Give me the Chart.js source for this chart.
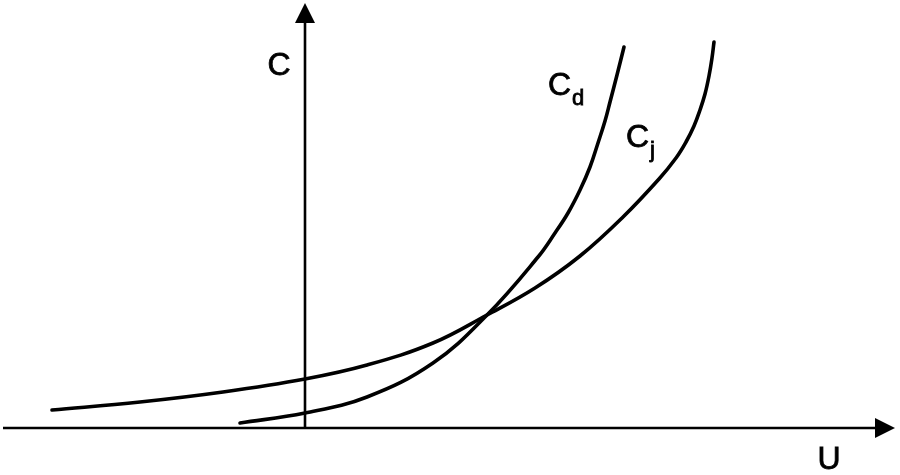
<!DOCTYPE html>
<html>
<head>
<meta charset="utf-8">
<script src="https://cdn.jsdelivr.net/npm/chart.js@4.4.1/dist/chart.umd.min.js"></script>
<style>
  html, body { margin: 0; padding: 0; background: #fff; }
  #wrap { width: 900px; height: 475px; }
</style>
</head>
<body>
<div id="wrap"><canvas id="capGraph"></canvas></div>
<script>
// values, in arbitrary U / C units (origin at the axes crossing)
var cjU = [-2.53, -1.65, -0.82, 0.00, 0.62, 1.28, 1.82, 2.30, 2.75, 3.18, 3.54, 3.71, 3.81, 3.89, 3.95, 4.00, 4.04, 4.07, 4.09];
var cjC = [0.18, 0.26, 0.36, 0.49, 0.63, 0.85, 1.13, 1.40, 1.72, 2.11, 2.49, 2.70, 2.86, 3.02, 3.18, 3.34, 3.52, 3.70, 3.86];
var cdU = [-0.65, 0.00, 0.62, 1.28, 1.82, 2.33, 2.50, 2.63, 2.75, 2.85, 2.93, 3.00, 3.05, 3.12, 3.19];
var cdC = [0.05, 0.15, 0.31, 0.65, 1.13, 1.71, 1.95, 2.15, 2.38, 2.61, 2.85, 3.07, 3.26, 3.53, 3.81];

var uRange = [-3.05, 5.95];
var cRange = [-0.47, 4.28];

function toPoints(xs, ys) {
    var pts = [];
    for (var i in xs) {
        pts.push({ x: xs[i], y: ys[i] });
    }
    return pts;
}

// axis letters and curve names: [text, subscript, u, c]
var labelList = [
    ['C', '', -0.26, 3.53],
    ['U', '', 5.24, -0.41],
    ['C', 'd', 2.545, 3.33],
    ['C', 'j', 3.325, 2.81]
];

var axesPlugin = {
    id: 'axesArrows',
    afterDatasetsDraw: function (chart) {
        var ctx = chart.ctx;
        var xs = chart.scales.x, ys = chart.scales.y;
        var ox = xs.getPixelForValue(0), oy = ys.getPixelForValue(0);
        var left = xs.getPixelForValue(uRange[0]) + 3;
        var right = xs.getPixelForValue(uRange[1]) - 5;
        var top = ys.getPixelForValue(cRange[1]) + 3;
        ctx.save();
        ctx.strokeStyle = '#000';
        ctx.fillStyle = '#000';
        ctx.lineWidth = 2.6;
        ctx.beginPath();
        ctx.moveTo(left, oy);
        ctx.lineTo(right - 15, oy);
        ctx.moveTo(ox, oy);
        ctx.lineTo(ox, top + 15);
        ctx.stroke();
        // arrow heads
        ctx.beginPath();
        ctx.moveTo(right, oy);
        ctx.lineTo(right - 20, oy - 10);
        ctx.lineTo(right - 20, oy + 10);
        ctx.closePath();
        ctx.fill();
        ctx.beginPath();
        ctx.moveTo(ox, top);
        ctx.lineTo(ox - 10, top + 20);
        ctx.lineTo(ox + 10, top + 20);
        ctx.closePath();
        ctx.fill();
        // labels
        ctx.textBaseline = 'alphabetic';
        ctx.lineWidth = 0.8;
        for (var i in labelList) {
            var l = labelList[i];
            var px = xs.getPixelForValue(l[2]);
            var py = ys.getPixelForValue(l[3]);
            ctx.font = '32px "Liberation Sans", Arial, sans-serif';
            ctx.textAlign = 'center';
            ctx.fillText(l[0], px, py);
            ctx.strokeText(l[0], px, py);
            if (l[1]) {
                var w = ctx.measureText(l[0]).width;
                ctx.font = '22px "Liberation Sans", Arial, sans-serif';
                ctx.textAlign = 'left';
                ctx.fillText(l[1], px + w / 2 + 1, py + 10);
                ctx.strokeText(l[1], px + w / 2 + 1, py + 10);
            }
        }
        ctx.restore();
    }
};

new Chart(document.getElementById('capGraph'), {
    type: 'scatter',
    data: {
        datasets: [
            {
                label: 'Cj',
                data: toPoints(cjU, cjC),
                showLine: true,
                borderColor: '#000',
                borderWidth: 3.6,
                borderCapStyle: 'round',
                borderJoinStyle: 'round',
                tension: 0.4,
                pointRadius: 0
            },
            {
                label: 'Cd',
                data: toPoints(cdU, cdC),
                showLine: true,
                borderColor: '#000',
                borderWidth: 3.6,
                borderCapStyle: 'round',
                borderJoinStyle: 'round',
                tension: 0.4,
                pointRadius: 0
            }
        ]
    },
    options: {
        responsive: true,
        maintainAspectRatio: false,
        animation: false,
        layout: { padding: 0 },
        plugins: { legend: { display: false }, tooltip: { enabled: false } },
        scales: {
            x: { type: 'linear', min: uRange[0], max: uRange[1], display: false },
            y: { type: 'linear', min: cRange[0], max: cRange[1], display: false }
        }
    },
    plugins: [axesPlugin]
});
</script>
</body>
</html>
